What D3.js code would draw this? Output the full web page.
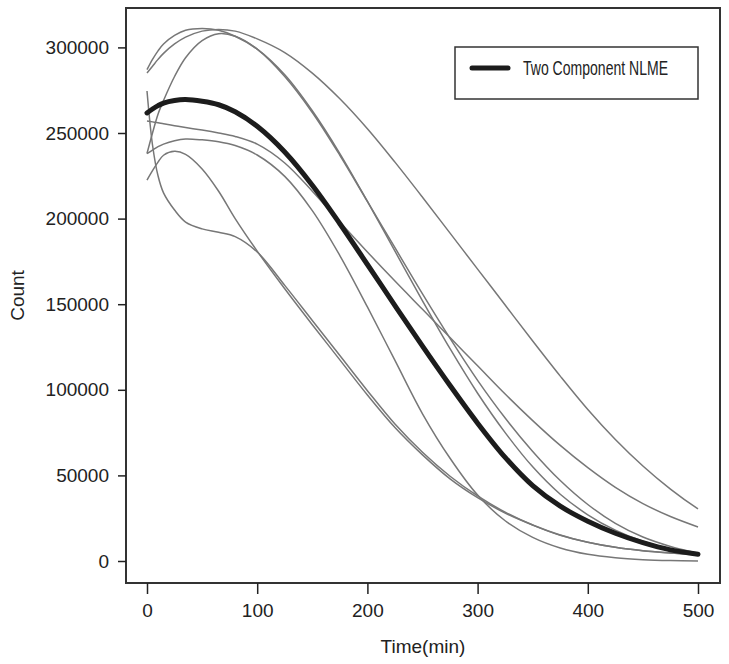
<!DOCTYPE html>
<html>
<head>
<meta charset="utf-8">
<script src="https://cdn.jsdelivr.net/npm/d3@7"></script>
<style>
  body { margin: 0; background: #fff; }
  svg { display: block; font-family: "Liberation Sans", Arial, sans-serif; }
</style>
</head>
<body>
<svg id="chart"></svg>
<script>
const width = 729;
const height = 664;

// time grid (min)
const times = [0, 5, 10, 15, 25, 35, 50, 65, 80, 100, 125, 150, 175, 200, 225, 250, 275, 300, 325, 350, 375, 400, 425, 450, 475, 500];

// fitted mean curve
const nlme = [261700, 264000, 266000, 267500, 269000, 269500, 268500, 266500, 262400, 253900, 238900, 219500, 197000, 173200, 149200, 125500, 102500, 80500, 60500, 44000, 32000, 23200, 16200, 10700, 6500, 4000];

// individual curves
const subj1 = [287000, 293000, 298000, 302000, 307000, 310000, 311000, 310000, 306500, 299000, 284000, 263000, 238000, 210000, 181000, 152000, 124000, 98000, 75000, 55000, 39000, 27000, 18000, 11500, 7000, 4500];
const subj2 = [285000, 289000, 293000, 296500, 302000, 306000, 309500, 310500, 309500, 305000, 297000, 285000, 270000, 252500, 233000, 212500, 191500, 170500, 149500, 128500, 108000, 88500, 71000, 55500, 42000, 30400];
const subj3 = [238000, 250000, 261000, 269000, 283000, 294000, 304000, 308000, 306500, 299000, 283000, 262000, 237000, 210000, 183000, 156000, 130000, 105500, 83500, 64000, 47000, 33000, 22000, 14000, 8500, 4500];
const subj4 = [274500, 243000, 225000, 215000, 205000, 198000, 194000, 192000, 189500, 180500, 161000, 140500, 120000, 99500, 80000, 63500, 49500, 38000, 28500, 21000, 15200, 11000, 8000, 6000, 4700, 3800];
const subj5 = [257000, 256500, 256000, 255400, 254300, 253200, 251700, 250000, 248000, 243500, 232500, 216000, 198000, 180500, 163500, 147000, 130500, 114000, 97500, 82000, 67500, 54500, 43000, 33500, 26000, 19900];
const subj6 = [238000, 240000, 242000, 243500, 245500, 246500, 246000, 244900, 242650, 237150, 224650, 204650, 178400, 148400, 117150, 86000, 60000, 38500, 23500, 13800, 7600, 3900, 1900, 800, 250, 0];
const subj7 = [222500, 228000, 233000, 237000, 239300, 237500, 229000, 216000, 200000, 181000, 159000, 138000, 117500, 97000, 78000, 62000, 48000, 37000, 28000, 21000, 15000, 11000, 8000, 6000, 4700, 3600];

const subjects = [subj1, subj2, subj3, subj4, subj5, subj6, subj7];

const xTicks = [0, 100, 200, 300, 400, 500];
const yTicks = [0, 50000, 100000, 150000, 200000, 250000, 300000];
const legendLabel = "Two Component NLME";

const box = { left: 126, right: 720, top: 8, bottom: 583 };

const x = d3.scaleLinear().domain([0, 500]).range([147, 698]);
const y = d3.scaleLinear().domain([0, 300000]).range([561, 47.4]);

const svg = d3.select("#chart").attr("width", width).attr("height", height);

const line = d3
  .line()
  .x((d) => x(d[0]))
  .y((d) => y(d[1]))
  .curve(d3.curveCatmullRom.alpha(0.5));

// individual curves
svg
  .append("g")
  .selectAll("path")
  .data(subjects)
  .enter()
  .append("path")
  .attr("d", (vals) => line(times.map((t, i) => [t, vals[i]])))
  .attr("fill", "none")
  .attr("stroke", "#777")
  .attr("stroke-width", 1.5);

// mean curve
svg
  .append("path")
  .attr("d", line(times.map((t, i) => [t, nlme[i]])))
  .attr("fill", "none")
  .attr("stroke", "#1c1c1c")
  .attr("stroke-width", 5)
  .attr("stroke-linecap", "round")
  .attr("stroke-linejoin", "round");

// frame
svg
  .append("rect")
  .attr("x", box.left)
  .attr("y", box.top)
  .attr("width", box.right - box.left)
  .attr("height", box.bottom - box.top)
  .attr("fill", "none")
  .attr("stroke", "#333")
  .attr("stroke-width", 2);

// axes
const xAxis = d3.axisBottom(x).tickValues(xTicks).tickSize(11).tickPadding(10).tickFormat(d3.format("d"));
const gx = svg.append("g").attr("transform", `translate(0, ${box.bottom})`).call(xAxis);
gx.select(".domain").remove();

const yAxis = d3.axisLeft(y).tickValues(yTicks).tickSize(8).tickPadding(9).tickFormat(d3.format("d"));
const gy = svg.append("g").attr("transform", `translate(${box.left}, 0)`).call(yAxis);
gy.select(".domain").remove();

svg.selectAll(".tick line").attr("stroke", "#222").attr("stroke-width", 1.5);
svg
  .selectAll(".tick text")
  .attr("fill", "#222")
  .style("font-size", "19px")
  .style("font-family", "'Liberation Sans', Arial, sans-serif");

// axis titles
svg
  .append("text")
  .attr("x", (box.left + box.right) / 2)
  .attr("y", 653)
  .attr("text-anchor", "middle")
  .attr("fill", "#222")
  .style("font-size", "19px")
  .text("Time(min)");

svg
  .append("text")
  .attr("transform", `translate(24, ${(box.top + box.bottom) / 2}) rotate(-90)`)
  .attr("text-anchor", "middle")
  .attr("fill", "#222")
  .style("font-size", "19px")
  .text("Count");

// legend
const legend = svg.append("g");
legend
  .append("rect")
  .attr("x", 455)
  .attr("y", 47)
  .attr("width", 243)
  .attr("height", 52)
  .attr("fill", "#fff")
  .attr("stroke", "#333")
  .attr("stroke-width", 1.5);
legend
  .append("line")
  .attr("x1", 472)
  .attr("x2", 508)
  .attr("y1", 68)
  .attr("y2", 68)
  .attr("stroke", "#1c1c1c")
  .attr("stroke-width", 5)
  .attr("stroke-linecap", "round");
legend
  .append("text")
  .attr("x", 523)
  .attr("y", 75)
  .attr("fill", "#222")
  .attr("textLength", 145)
  .attr("lengthAdjust", "spacingAndGlyphs")
  .style("font-family", "'Liberation Sans Narrow', 'Liberation Sans', Arial, sans-serif")
  .style("font-size", "20px")
  .text(legendLabel);
</script>
</body>
</html>
